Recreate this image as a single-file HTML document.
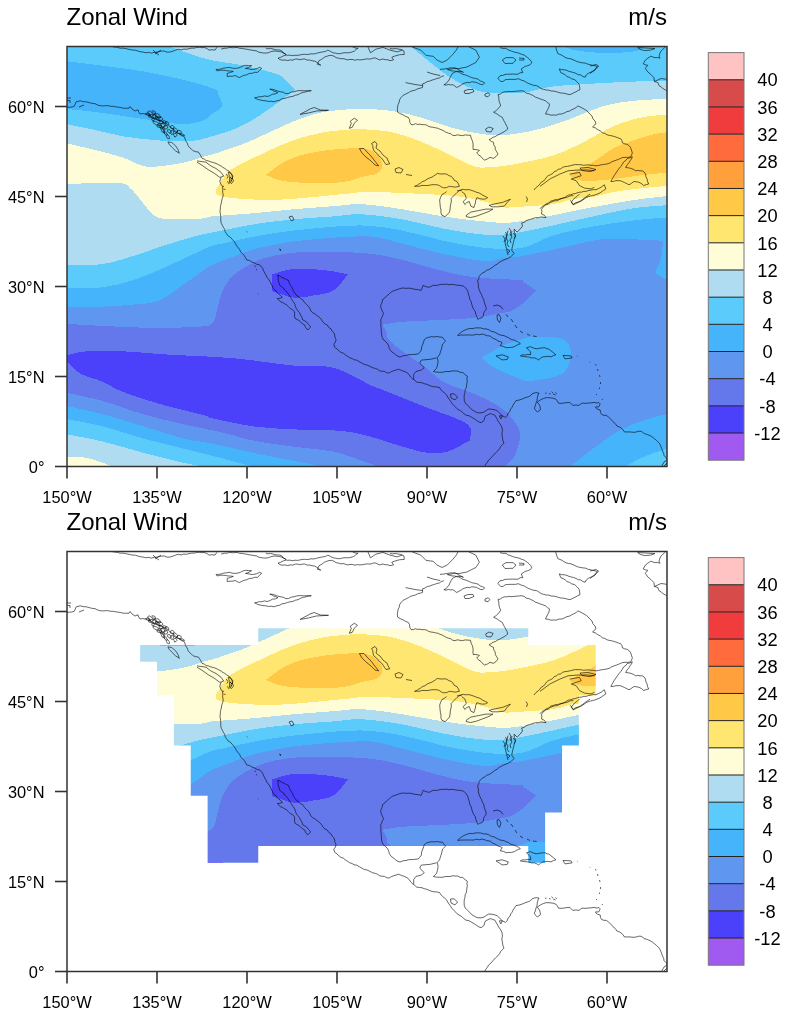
<!DOCTYPE html>
<html><head><meta charset="utf-8">
<style>
html,body{margin:0;padding:0;background:#fff;}
svg{display:block;}
text{font-family:"Liberation Sans",sans-serif;fill:#000;opacity:0.999;}
.ax{font-size:16.4px;}
.ti{font-size:24px;}
.cb{font-size:18.3px;}
.tk{stroke:#333;stroke-width:1.6;}
.coast polyline{fill:none;stroke:#000;stroke-width:0.6;stroke-linejoin:round;}
</style></head><body>
<svg width="789" height="1016" viewBox="0 0 789 1016">
<defs>
<clipPath id="pc"><rect x="67" y="46.5" width="600" height="420"/></clipPath>
<mask id="mc" maskUnits="userSpaceOnUse" x="0" y="0" width="789" height="600"><polygon fill="#fff" points="258.25,123.26 528.25,123.26 528.25,140 595.75,140 595.75,190.23 578.875,190.23 578.875,240.46 562,240.46 562,307.44 545.125,307.44 545.125,357.67 528.25,357.67 528.25,340.92 258.25,340.92 258.25,357.67 207.625,357.67 207.625,290.69 190.75,290.69 190.75,240.46 173.875,240.46 173.875,190.23 157,190.23 157,156.75 140.125,156.75 140.125,140 258.25,140"/></mask>
<g id="fills" shape-rendering="crispEdges">
<path fill="#5f96f0" d="M67,46.5L667,46.5L667,466.5L67,466.5L67,46.5Z"/>
<path fill="#46b4fa" d="M67,46.5L667,46.5L667,280.2C665.00,279.03 657.00,274.37 655,273.2C656.00,270.67 659.67,263.42 661,258C662.33,252.58 662.67,243.58 663,240.7C654.73,240.37 625.07,238.70 613.4,238.7C601.73,238.70 603.13,238.85 593,240.7C582.87,242.55 564.43,247.25 552.6,249.8C540.77,252.35 530.10,254.63 522,256C513.90,257.37 510.38,257.17 504,258C497.62,258.83 493.85,261.68 483.7,261C473.55,260.32 456.62,256.78 443.1,253.9C429.58,251.02 414.45,246.58 402.6,243.7C390.75,240.82 383.48,237.60 372,236.6C360.52,235.60 346.87,236.88 333.7,237.7C320.53,238.52 302.78,240.32 293,241.5C283.22,242.68 281.73,243.47 275,244.8C268.27,246.13 259.72,247.47 252.6,249.5C245.48,251.53 239.07,254.42 232.3,257C225.53,259.58 216.72,262.83 212,265C207.28,267.17 208.72,266.78 204,270C199.28,273.22 191.13,279.22 183.7,284.3C176.27,289.38 167.85,297.12 159.4,300.5C150.95,303.88 142.47,303.58 133,304.6C123.53,305.62 113.60,306.27 102.6,306.6C91.60,306.93 72.93,306.60 67,306.6L67,46.5Z"/>
<path fill="#5acbfa" d="M67,46.5L667,46.5L667,217.4C661.45,217.90 646.03,218.88 633.7,220.4C621.37,221.92 606.52,223.97 593,226.5C579.48,229.03 564.43,232.05 552.6,235.6C540.77,239.15 533.48,245.77 522,247.8C510.52,249.83 496.85,248.98 483.7,247.8C470.55,246.62 456.62,243.57 443.1,240.7C429.58,237.83 416.12,233.13 402.6,230.6C389.08,228.07 376.87,225.85 362,225.5C347.13,225.15 328.25,227.20 313.4,228.5C298.55,229.80 284.73,231.55 272.9,233.3C261.07,235.05 250.88,237.27 242.4,239C233.92,240.73 227.07,242.57 222,243.7C216.93,244.83 216.70,244.10 212,245.8C207.30,247.50 201.90,250.20 193.8,253.9C185.70,257.60 173.53,263.62 163.4,268C153.27,272.38 143.13,276.98 133,280.2C122.87,283.42 113.60,285.93 102.6,287.3C91.60,288.67 72.93,288.22 67,288.4L67,46.5Z"/>
<path fill="#46b4fa" d="M67,61.3C73.33,62.08 92.33,64.32 105,66C117.67,67.68 130.50,69.23 143,71.4C155.50,73.57 168.17,76.12 180,79C191.83,81.88 207.67,86.25 214,88.7C220.33,91.15 216.67,90.82 218,93.7C219.33,96.58 223.00,102.62 222,106C221.00,109.38 215.00,111.67 212,114C209.00,116.33 208.72,118.30 204,120C199.28,121.70 192.70,124.20 183.7,124.2C174.70,124.20 160.13,121.37 150,120C139.87,118.63 132.07,117.33 122.9,116C113.73,114.67 104.32,113.17 95,112C85.68,110.83 71.67,109.50 67,109L67,61.3Z"/>
<path fill="#46b4fa" d="M564,46.5C565.67,47.08 568.83,49.00 574,50C579.17,51.00 586.83,52.08 595,52.5C603.17,52.92 615.83,52.83 623,52.5C630.17,52.17 634.33,51.50 638,50.5C641.67,49.50 643.83,47.17 645,46.5L564,46.5Z"/>
<path fill="#b0dcf2" d="M67,124.2C71.67,125.17 85.68,127.98 95,130C104.32,132.02 113.73,134.70 122.9,136.3C132.07,137.90 141.55,138.75 150,139.6C158.45,140.45 166.93,141.17 173.6,141.4C180.27,141.63 185.93,141.22 190,141C194.07,140.78 195.67,140.50 198,140.1C200.33,139.70 200.00,139.73 204,138.6C208.00,137.47 217.28,134.73 222,133.3C226.72,131.87 227.20,132.22 232.3,130C237.40,127.78 244.82,124.68 252.6,120C260.38,115.32 271.93,106.95 279,101.9C286.07,96.85 292.33,91.73 295,89.7C293.33,88.00 288.33,82.20 285,79.5C281.67,76.80 282.10,75.87 275,73.5C267.90,71.13 252.90,67.50 242.4,65.3C231.90,63.10 220.73,62.18 212,60.3C203.27,58.42 197.08,56.30 190,54C182.92,51.70 172.92,47.75 169.5,46.5L410.7,46.5C413.75,48.97 422.92,56.47 429,61.3C435.08,66.13 440.78,71.28 447.2,75.5C453.62,79.72 460.73,83.73 467.5,86.6C474.27,89.47 478.72,91.68 487.8,92.7C496.88,93.72 511.20,93.72 522,92.7C532.80,91.68 540.77,88.12 552.6,86.6C564.43,85.08 579.48,84.43 593,83.6C606.52,82.77 621.37,82.10 633.7,81.6C646.03,81.10 661.45,80.77 667,80.6L667,205.2C661.45,205.70 646.03,206.33 633.7,208.2C621.37,210.07 606.52,213.52 593,216.4C579.48,219.28 566.10,222.63 552.6,225.5C539.10,228.37 523.48,232.08 512,233.6C500.52,235.12 495.18,235.45 483.7,234.6C472.22,233.75 456.62,231.03 443.1,228.5C429.58,225.97 416.12,221.77 402.6,219.4C389.08,217.03 373.48,214.80 362,214.3C350.52,213.80 345.20,215.55 333.7,216.4C322.20,217.25 306.52,218.05 293,219.4C279.48,220.75 264.43,222.63 252.6,224.5C240.77,226.37 228.77,229.25 222,230.6C215.23,231.95 216.70,231.60 212,232.6C207.30,233.60 201.90,234.40 193.8,236.6C185.70,238.80 173.53,242.57 163.4,245.8C153.27,249.03 143.13,252.97 133,256C122.87,259.03 113.60,262.50 102.6,264C91.60,265.50 72.93,264.83 67,265L67,124.2Z"/>
<path fill="#fffdd8" d="M67,143.4C71.67,144.50 85.68,147.63 95,150C104.32,152.37 115.57,155.15 122.9,157.6C130.23,160.05 133.93,163.17 139,164.7C144.07,166.23 145.85,167.13 153.3,166.8C160.75,166.47 175.25,164.42 183.7,162.7C192.15,160.98 199.28,157.87 204,156.5C208.72,155.13 209.33,155.25 212,154.5C214.67,153.75 214.45,153.90 220,152C225.55,150.10 236.85,146.48 245.3,143.1C253.75,139.72 262.25,135.50 270.7,131.7C279.15,127.90 287.78,123.47 296,120.3C304.22,117.13 312.67,114.42 320,112.7C327.33,110.98 333.00,110.62 340,110C347.00,109.38 353.27,108.83 362,109C370.73,109.17 382.25,109.50 392.4,111C402.55,112.50 412.75,115.13 422.9,118C433.05,120.87 443.17,125.48 453.3,128.2C463.43,130.92 473.92,133.28 483.7,134.3C493.48,135.32 502.22,135.32 512,134.3C521.78,133.28 532.25,130.92 542.4,128.2C552.55,125.48 562.75,121.70 572.9,118C583.05,114.30 593.17,108.87 603.3,106C613.43,103.13 623.08,102.00 633.7,100.8C644.32,99.60 661.45,99.13 667,98.8L667,196C661.45,196.68 646.03,198.23 633.7,200.1C621.37,201.97 606.52,204.67 593,207.2C579.48,209.73 566.10,212.77 552.6,215.3C539.10,217.83 523.48,221.38 512,222.4C500.52,223.42 495.18,222.40 483.7,221.4C472.22,220.40 456.62,218.42 443.1,216.4C429.58,214.38 416.12,211.33 402.6,209.3C389.08,207.27 373.48,204.72 362,204.2C350.52,203.68 345.20,205.35 333.7,206.2C322.20,207.05 306.52,208.12 293,209.3C279.48,210.48 266.10,212.12 252.6,213.3C239.10,214.48 220.10,215.55 212,216.4C203.90,217.25 210.40,217.90 204,218.4C197.60,218.90 181.72,219.73 173.6,219.4C165.48,219.07 160.40,219.13 155.3,216.4C150.20,213.67 147.05,207.57 143,203C138.95,198.43 135.03,192.33 131,189C126.97,185.67 129.47,183.83 118.8,183C108.13,182.17 75.63,183.83 67,184L67,143.4Z"/>
<path fill="#ffe670" d="M216,191C216.33,189.00 218.67,185.33 220,183C221.33,180.67 221.95,179.37 224,177C226.05,174.63 225.85,172.70 232.3,168.8C238.75,164.90 252.58,158.33 262.7,153.6C272.82,148.87 282.85,143.95 293,140.4C303.15,136.85 313.43,134.17 323.6,132.3C333.77,130.43 347.60,129.72 354,129.2C360.40,128.68 355.60,128.68 362,129.2C368.40,129.72 382.25,130.10 392.4,132.3C402.55,134.50 412.75,138.35 422.9,142.4C433.05,146.45 444.52,152.53 453.3,156.6C462.08,160.67 468.85,165.10 475.6,166.8C482.35,168.50 487.73,167.15 493.8,166.8C499.87,166.45 502.20,166.57 512,164.7C521.80,162.83 540.77,159.32 552.6,155.6C564.43,151.88 572.87,147.30 583,142.4C593.13,137.50 603.27,130.43 613.4,126.2C623.53,121.97 634.87,118.87 643.8,117C652.73,115.13 663.13,115.33 667,115L667,186C663.13,186.33 652.73,187.00 643.8,188C634.87,189.00 621.87,190.50 613.4,192C604.93,193.50 599.75,195.83 593,197C586.25,198.17 579.63,197.80 572.9,199C566.17,200.20 562.75,202.83 552.6,204.2C542.45,205.57 520.10,206.70 512,207.2C503.90,207.70 512.10,208.90 504,207.2C495.90,205.50 480.30,199.37 463.4,197C446.50,194.63 419.50,193.83 402.6,193C385.70,192.17 370.10,192.00 362,192C353.90,192.00 362.10,192.17 354,193C345.90,193.83 326.92,195.83 313.4,197C299.88,198.17 286.42,199.83 272.9,200C259.38,200.17 241.45,198.83 232.3,198C223.15,197.17 220.72,196.17 218,195C215.28,193.83 215.67,193.00 216,191Z"/>
<path fill="#ffc846" d="M265.8,174.9C268.67,172.87 276.75,166.08 283,162.7C289.25,159.32 294.85,156.80 303.3,154.6C311.75,152.40 323.92,150.52 333.7,149.5C343.48,148.48 355.25,147.98 362,148.5C368.75,149.02 370.82,150.23 374.2,152.6C377.58,154.97 381.63,159.33 382.3,162.7C382.97,166.07 381.58,170.43 378.2,172.8C374.82,175.17 367.73,175.37 362,176.9C356.27,178.43 351.90,180.98 343.8,182C335.70,183.02 323.53,183.17 313.4,183C303.27,182.83 290.93,182.35 283,181C275.07,179.65 268.67,175.92 265.8,174.9Z"/>
<path fill="#ffc846" d="M568.8,174.9C572.17,173.20 581.57,169.10 589,164.7C596.43,160.30 605.95,152.55 613.4,148.5C620.85,144.45 626.93,142.77 633.7,140.4C640.47,138.03 648.45,135.65 654,134.3C659.55,132.95 664.83,132.63 667,132.3L667,172.8C663.13,173.15 652.73,173.87 643.8,174.9C634.87,175.93 623.53,177.98 613.4,179C603.27,180.02 590.43,181.68 583,181C575.57,180.32 571.17,175.92 568.8,174.9Z"/>
<path fill="#6478eb" d="M67,323.9C72.93,324.23 88.22,325.23 102.6,325.9C116.98,326.57 138.10,327.73 153.3,327.9C168.50,328.07 184.02,327.57 193.8,326.9C203.58,326.23 208.13,326.72 212,323.9C215.87,321.08 215.33,315.25 217,310C218.67,304.75 219.45,298.03 222,292.4C224.55,286.77 227.20,281.10 232.3,276.2C237.40,271.30 245.83,266.37 252.6,263C259.37,259.63 264.45,257.85 272.9,256C281.35,254.15 293.17,252.58 303.3,251.9C313.43,251.22 322.25,251.57 333.7,251.9C345.15,252.23 360.52,252.55 372,253.9C383.48,255.25 390.75,257.13 402.6,260C414.45,262.87 431.27,268.23 443.1,271.1C454.93,273.97 463.45,275.85 473.6,277.2C483.75,278.55 495.93,278.70 504,279.2C512.07,279.70 518.67,279.68 522,280.2C525.33,280.72 521.62,280.60 524,282.3C526.38,284.00 534.25,289.05 536.3,290.4C534.25,292.43 528.05,299.22 524,302.6C519.95,305.98 515.33,309.02 512,310.7C508.67,312.38 510.40,311.52 504,312.7C497.60,313.88 483.75,316.62 473.6,317.8C463.45,318.98 454.93,319.13 443.1,319.8C431.27,320.47 412.73,320.95 402.6,321.8C392.47,322.65 385.68,324.38 382.3,324.9C382.97,325.92 385.28,328.63 386.3,331C387.32,333.37 385.68,335.72 388.4,339.1C391.12,342.48 396.85,346.90 402.6,351.3C408.35,355.70 416.15,360.43 422.9,365.5C429.65,370.57 436.35,377.65 443.1,381.7C449.85,385.75 456.63,387.08 463.4,389.8C470.17,392.52 476.93,394.62 483.7,398C490.47,401.38 498.58,405.72 504,410.1C509.42,414.48 513.50,419.90 516.2,424.3C518.90,428.70 520.55,431.08 520.2,436.5C519.85,441.92 516.80,451.80 514.1,456.8C511.40,461.80 505.68,464.88 504,466.5L378,466.5C375.33,465.55 369.38,463.27 362,460.8C354.62,458.33 345.18,454.07 333.7,451.7C322.22,449.33 306.62,448.47 293.1,446.6C279.58,444.73 264.45,442.87 252.6,440.5C240.75,438.13 233.48,435.10 222,432.4C210.52,429.70 196.85,427.33 183.7,424.3C170.55,421.27 156.62,418.08 143.1,414.2C129.58,410.32 115.28,404.55 102.6,401C89.92,397.45 72.93,394.25 67,392.9L67,323.9Z"/>
<path fill="#4b41fa" d="M271.8,274.5C275.33,273.58 284.37,269.75 293,269C301.63,268.25 314.45,269.13 323.6,270C332.75,270.87 343.85,273.50 347.9,274.2C345.53,276.90 339.45,286.85 333.7,290.4C327.95,293.95 320.18,294.32 313.4,295.5C306.62,296.68 299.90,298.25 293,297.5C286.10,296.75 275.50,292.08 272,291C271.97,288.25 271.83,277.25 271.8,274.5Z"/>
<path fill="#4b41fa" d="M67,355.3C70.22,354.63 76.98,351.97 86.3,351.3C95.62,350.63 110.05,350.80 122.9,351.3C135.75,351.80 146.88,353.28 163.4,354.3C179.92,355.32 207.13,356.38 222,357.4C236.87,358.42 240.75,359.05 252.6,360.4C264.45,361.75 280.93,364.48 293.1,365.5C305.27,366.52 317.15,365.48 325.6,366.5C334.05,367.52 336.07,368.38 343.8,371.6C351.53,374.82 365.58,382.77 372,385.8C378.42,388.83 373.82,386.43 382.3,389.8C390.78,393.17 408.70,400.25 422.9,406C437.10,411.75 459.73,418.55 467.5,424.3C475.27,430.05 469.17,437.80 469.5,440.5C465.78,442.37 454.30,449.67 447.2,451.7C440.10,453.73 434.33,453.55 426.9,452.7C419.47,451.85 413.42,449.65 402.6,446.6C391.78,443.55 373.48,437.10 362,434.4C350.52,431.70 345.18,431.23 333.7,430.4C322.22,429.57 306.62,430.08 293.1,429.4C279.58,428.72 266.12,428.17 252.6,426.3C239.08,424.43 220.10,420.05 212,418.2C203.90,416.35 212.10,417.40 204,415.2C195.90,413.00 176.92,408.88 163.4,405C149.88,401.12 133.03,395.78 122.9,391.9C112.77,388.02 109.70,384.75 102.6,381.7C95.50,378.65 86.23,376.98 80.3,373.6C74.37,370.22 69.22,363.43 67,361.4L67,355.3Z"/>
<path fill="#46b4fa" d="M67,406C72.93,407.37 89.92,410.82 102.6,414.2C115.28,417.58 129.58,422.25 143.1,426.3C156.62,430.35 172.22,435.62 183.7,438.5C195.18,441.38 200.52,441.23 212,443.6C223.48,445.97 239.08,449.83 252.6,452.7C266.12,455.57 281.27,458.50 293.1,460.8C304.93,463.10 318.52,465.55 323.6,466.5L67,466.5L67,406Z"/>
<path fill="#5acbfa" d="M67,419.2C72.93,420.38 89.92,423.08 102.6,426.3C115.28,429.52 129.58,434.78 143.1,438.5C156.62,442.22 172.22,445.73 183.7,448.6C195.18,451.47 202.22,453.15 212,455.7C221.78,458.25 235.63,462.10 242.4,463.9C249.17,465.70 250.90,466.07 252.6,466.5L67,466.5L67,419.2Z"/>
<path fill="#b0dcf2" d="M67,434.4C72.93,435.58 89.92,438.45 102.6,441.5C115.28,444.55 129.58,449.15 143.1,452.7C156.62,456.25 173.88,460.50 183.7,462.8C193.52,465.10 198.95,465.88 202,466.5L67,466.5L67,434.4Z"/>
<path fill="#fffdd8" d="M67,456.8C70.22,456.97 80.37,456.80 86.3,457.8C92.23,458.80 98.20,461.35 102.6,462.8C107.00,464.25 111.02,465.88 112.7,466.5L67,466.5L67,456.8Z"/>
<path fill="#46b4fa" d="M481.7,357.4C485.42,355.37 497.28,348.25 504,345.2C510.72,342.15 517.28,340.45 522,339.1C526.72,337.75 525.52,337.10 532.3,337.1C539.08,337.10 556.28,336.40 562.7,339.1C569.12,341.80 570.80,347.55 570.8,353.3C570.80,359.05 569.12,369.03 562.7,373.6C556.28,378.17 539.08,379.68 532.3,380.7C525.52,381.72 528.42,381.90 522,379.7C515.58,377.50 500.52,371.22 493.8,367.5C487.08,363.78 483.72,359.08 481.7,357.4Z"/>
<path fill="#46b4fa" d="M570.8,466.5C574.52,463.52 584.30,454.95 593.1,448.6C601.90,442.25 613.45,433.63 623.6,428.4C633.75,423.17 646.77,419.57 654,417.2C661.23,414.83 664.83,414.70 667,414.2L667,466.5L570.8,466.5Z"/>
<path fill="#5acbfa" d="M625.6,466.5C628.63,464.88 636.90,459.78 643.8,456.8C650.70,453.82 663.13,449.97 667,448.6L667,466.5L625.6,466.5Z"/>
</g>
<g id="coast" class="coast">
<polyline points="112.7,46.8 115.26,47.07 117.79,47.52 120.29,48.24 122.9,48.1 125.43,48.56 127.95,49.11 130.46,49.69 133,50.1 135.59,50.26 138.05,51.11 140.55,51.74 143.1,52.1 145.76,52.75 148.55,52.32 151.2,53.1 154.22,52.39 157.3,52.1 161.4,51.1 164.16,50.99 166.76,52.1 169.5,52.1 172.62,51.3 175.6,50.1 178.24,49.27 181.06,49.96 183.7,49.1 186.46,49.27 189.12,48.6 191.8,48.1 194.25,48.11 196.66,47.48 199.09,47.21 201.56,47.65 204,47.5 206.72,48.37 209,50.1 212,49.76 215,50.1 217,47.2"/>
<polyline points="153,50 156,53 159,55"/>
<polyline points="155,54 161,50"/>
<polyline points="221.1,49.1 224.1,48.32 227.2,48.1 229.72,47.43 232.3,47.76 234.85,47.58 237.4,47.5 239.7,48.3 242.13,48.39 244.47,48.95 246.87,49.23 249.2,49.84 251.6,50.1 253.98,50.55 256.38,50.86 258.59,52.14 260.95,52.63 263.36,52.97 265.8,53.1 268.55,52.66 271.15,51.57 273.9,51.1 276.64,51.14 279.33,51.54 282,52.1 284.29,53.28 286,55.2 283.23,55.93 280.71,57.3 278,58.2 279.83,59.54 282,60.2 284.86,59.98 287.75,60.5 290.6,59.9 292.99,60.13 295.3,59.05 297.68,59.13 300.1,59.75 302.43,59.12 304.8,59 307.04,60.08 309.56,60.02 311.9,60.7 314.75,61.15 317.3,62.5 318.96,63.96 320.8,65.2 317.3,64.3 319,60.7 321.87,59.21 324.4,57.2 326.7,56.35 329.02,55.56 331.5,55.4 333.93,56.13 336.05,57.68 338.6,58.1 340.74,58.83 343.08,58.59 345.26,59.18 347.4,59.9 349.88,59.46 352.36,59.42 354.84,60.23 357.32,59.55 359.8,59.9 362.03,59.74 364.24,59.39 366.44,58.89 368.7,59 371.1,58.95 373.38,58 375.8,58.1 379.4,59.9 382.9,59 385.23,59.72 387.73,59.72 390,60.7 393.6,59.9 391.8,57.2 394.42,56.22 397.1,55.4 399.43,54.79 401.8,54.55 404.2,54.5 404,51 401.16,49.51 398,49 395.35,48.5 392.65,48.88 390,48.5"/>
<polyline points="265.8,48.1 268.11,48.85 270.58,48.45 272.92,48.98 275.21,49.82 277.61,49.92 280,50.1 282.04,51.07 283.23,53.18 285.51,53.82 287.1,55.4 289.75,55.13 292.4,55.7 295.05,55.21 297.7,55.4 299.9,54.95 302.1,54.48 304.33,54.28 306.6,54.5 308.83,54.37 311.02,53.77 313.29,53.94 315.5,53.6 317.83,52.9 320.22,52.42 322.6,51.9 325.41,51.48 327.9,50.1 330.56,51.43 333.2,52.8 335.56,53.15 337.89,53.73 340.3,53.6 342.63,52.99 344.99,52.69 347.4,52.8 349.88,52.64 352.22,51.94 354.5,51 356.13,49.43 358.1,48.3 355.32,47.98 352.7,47"/>
<polyline points="368,47 370.5,52.8 375.8,49.2 382.9,47.4 390,50.1 397.1,51.9 402.4,50.1"/>
<polyline points="411.9,46.8 420.8,50.1 426.1,55.4 433.2,56.3 436.8,59.9 442.1,62.5 447.4,59.9 452.7,54.5 456.3,50.1 458.1,46.8"/>
<polyline points="468.7,46.8 475.8,50.1 479.4,57.2 475.8,62.5 466.9,67 458.1,68.7 451,67.8 444,69 440,69.4"/>
<polyline points="447.4,69.6 449.83,69.26 452.25,68.87 454.5,67.8 457.3,68.85 459.8,70.5 463.4,72.3 461.1,71.51 458.72,71.28 456.3,71.4 452.7,73.2 451.28,75.34 450.12,77.64 449.1,80.02 447.4,82 445.96,83.75 443.9,84.7 446.1,85.21 448.3,84.41 450.5,84.93 452.7,84.7 454.66,85.84 456.3,87.4 458.69,86.59 460.8,85.24 462.87,83.82 465.2,82.9 467.36,82.32 469.62,82.69 471.75,81.75 474,82 476.31,82.39 478.43,83.41 480.56,84.4 482.9,84.7 484.7,82.9 482.53,81.69 480.14,80.92 478.23,79.19 475.8,78.5 473.58,78.09 471.39,77.56 469.36,76.58 467.3,75.68 465.2,74.9 462.93,74.37 460.92,73.29 459,72 456.65,71.66 454.38,70.96 451.96,70.96 449.69,70.23 447.4,69.6"/>
<polyline points="464,91 468,89.5 473,89.5 474,91.5 469,93.5 465,93.5 464,91"/>
<polyline points="485,94 488,92.8 490,94.5 488,96.8 485,96 485,94"/>
<polyline points="500,47.6 503,48.38 506.1,48.3 507.89,49.8 510.09,50.52 512.2,51.4 515.2,52.35 518.3,52.9 521.27,54.14 524.3,55.2 527.4,57.4 529.2,58.95 530.79,60.67 531.9,62.8 529.94,64.74 527.4,65.8 525.16,66.43 523.23,67.67 521.3,68.9 522.8,72.7 520.17,72.7 517.84,74.22 515.2,74.2 512.67,74.05 510.13,74.22 507.6,74.2 505.02,74.45 502.57,75.4 500,75.7 497.8,78.5 500.9,81.5 503.29,81.36 505.23,79.72 507.6,79.5 510.28,79.35 512.97,79.36 515.66,79.34 518.3,78.7 521.21,80.09 524.3,81 526.23,82.23 528.22,83.35 530.4,84.1 533.34,85.29 536.5,85.6 538.89,86.96 541.1,88.6 543.59,89.3 546.08,90.03 548.7,90.1 551.15,91.03 553.79,91.08 556.3,91.7 558.77,92.51 561.29,93.09 563.9,93.2 566.93,94.03 570,94.7 573.9,92.7 575.99,91.82 577.91,90.58 580,89.7 579.64,86.89 579.1,84.1 576.88,81.72 574.5,79.5 571.8,78.93 569.49,77.36 566.9,76.5 565.15,74.77 563.05,73.61 560.8,72.7 559.3,68.9 561.78,69.65 564.39,69.78 566.9,70.4 569.09,71.4 571.42,71.98 573.75,72.59 576,73.4 578.16,74.69 580.77,74.88 582.79,76.5 585.2,77.2 586.29,74.98 588.2,73.4 590.28,72.5 592.26,71.38 594.3,70.4 595.57,68.32 597.3,66.6 595.08,65.81 592.75,65.45 590.51,64.75 588.2,64.3 585.26,63.1 582.1,62.8 579.74,62.28 577.38,61.76 575.2,60.68 573,59.7 570.79,58.76 568.35,58.51 566.06,57.8 563.9,56.7 562.07,55.27 559.91,54.48 557.8,53.6 556.99,51.37 556.3,49.1 555.6,46.8"/>
<polyline points="502.3,60 506,57.6 513,57.6 516,60 513,63.3 505,63.5 502.3,60"/>
<polyline points="519,58 524,58.5 524,60 519,60"/>
<polyline points="590,66 596,64.5 598.6,66 595,70 590,73.4"/>
<polyline points="665.5,46.8 663,49.1 661,51.1 660,53.1 659,56.2 660,58.2 657.49,57.52 654.9,57.7 650.8,56.2 647.8,58.2 645.3,60.2 643.2,63.8 645.3,64.8 647.8,65.3 645.3,68.3 647.8,71.9 650.8,74.4 653.9,77.5 654.4,81.5 657.9,82.5 659,85.6 661.11,86.95 663,88.6 666.6,90.7"/>
<polyline points="654.4,81.5 661,78.5 665,79 666.6,79.5"/>
<polyline points="637.7,47.6 640.7,49.6 644.8,50.6 650.8,50.1 654.9,48.6 646,48 637.7,47.6"/>
<polyline points="216,69.4 218.56,69.38 221.1,69 223.73,68.11 226.48,67.79 229.2,67.3 232.19,68.18 235.3,68.4 237.98,68.06 240.52,67.25 242.91,65.95 245.5,65.3 248.54,65.59 251.6,65.7 249.65,66.78 247.7,67.87 245.5,68.4 248.2,68.73 250.85,69.43 253.6,69.4 256.77,68.71 259.7,67.3 261.7,68.4 259.49,70.23 257.6,72.4 254.84,72.24 252.23,73.31 249.5,73.4 246.57,74.79 243.4,75.5 241.42,76.55 239.4,77.5 237.24,76.72 235.3,75.5 232.64,76.15 229.91,76.26 227.2,76.5 227.2,73.4 230.29,72.53 233.3,71.4 230.6,71.07 227.88,70.93 225.2,70.4 222.47,70.23 219.76,70.27 217.1,71 216,69.4"/>
<polyline points="254.6,97.8 256.96,97.41 259.27,96.67 261.7,96.8 264.33,95.92 267.16,96.47 269.8,95.7 272.32,94.23 275.28,93.92 277.9,92.7 275.91,91.75 273.77,91.14 271.95,89.78 269.8,89.2 272.48,89.31 275,90.06 277.46,91.03 280,91.7 283.17,92.2 286,93.7 288.82,93.39 291.4,92.09 294.2,91.7 296.75,90.97 299.34,90.54 302,90.7 304.32,90.84 306.65,90.64 308.98,90.84 311.3,90.7 308.72,91.03 306.2,91.7 303.38,92.38 300.62,93.23 298.1,94.7 295.38,95.2 292.85,96.42 290.1,96.8 287.41,97.49 284.78,98.48 282,98.8 279.49,100.3 276.61,100.83 273.9,101.8 271.23,101.23 268.46,101.48 265.8,100.8 263.02,100.58 260.3,100.03 257.6,99.4 254.6,97.8"/>
<polyline points="300.1,114.4 310.3,108.9 314.3,107.5 320.4,110 328.5,110.3 316.4,111 308.3,113 300.1,114.4"/>
<polyline points="349.3,128.3 351.3,123.3 350.3,121.2 354.3,118.2 357.4,120.2 354.3,123.3 352.3,127.3 349.3,128.3"/>
<polyline points="371.6,143.5 375,141.5 377,144 376,148 377.87,149.67 380,151 381.48,153.01 383,155 384.92,156.6 387,158 388.15,161.02 389.8,163.8 386,164.5 384.4,162.31 383,160 381.23,157.77 379,156 377.32,153.68 375,152 373.59,150.2 373,148 372.75,145.61 371.6,143.5"/>
<polyline points="359.4,148.6 364,148.5 367,152 371,156 374,160 378.7,165.9 375,165 371,161 366,157 362,153 359.4,148.6"/>
<polyline points="395,169 399,167.5 403,169.5 401,173 396,172.5 395,169"/>
<polyline points="406,174.5 412,175.5"/>
<polyline points="405.6,82.6 415,84.5 422.6,85.6"/>
<polyline points="427,72 433,74 440.1,75.5"/>
<polyline points="443.9,75.8 441.45,76.47 439.31,77.98 436.8,78.5 434.45,79.41 432.02,80.1 429.7,81.1 427.17,81.58 425.01,83.03 422.6,83.8 422.6,87.4 420.21,88.2 417.72,88.74 415.5,90 413.02,90.59 410.59,91.34 408.4,92.7 405.77,94.04 403.1,95.3 401.17,97.45 399.5,99.8 399.21,102.25 398.06,104.47 397.7,106.9 397.35,109.55 397.7,112.2 400.33,113.69 403.1,114.9 405.64,116.41 408.4,117.5 409.59,119.75 409.79,122.39 411.1,124.6 413.41,124.67 415.5,123.7 417.67,124.45 419.95,124.19 422.14,124.69 424.4,124.6 426.66,125.09 428.67,126.38 430.89,127 433.2,127.3 435.47,127.82 437.78,128.21 439.89,129.26 442.1,130 444.2,131.11 446.21,132.38 448.47,133.17 450.81,133.78 452.7,135.3 455.07,135.64 457.43,134.82 459.8,135.3 462.48,135.63 465.15,134.94 467.82,135.12 470.5,135.3 471.1,138.05 472.3,140.6 472.92,142.79 473.13,145.01 472.96,147.28 473.2,149.5 475.8,149.5 479.4,150.3 476.7,153 478.74,154.99 481.1,156.6 482.64,158.62 484.7,160.1 487.44,158.94 490,157.4 493.6,158.3 496.15,156.45 498,153.9 496.64,151.7 495.3,149.5 495.21,147.02 493.72,144.87 493.6,142.4 491.19,141.31 489.1,139.7 491.11,138.63 492.99,137.3 495.22,136.62 497.1,135.3 499.54,134.24 501.84,132.92 504.2,131.7 507.7,129.1 507.18,126.86 506.03,124.87 505.1,122.8 503.57,120.24 502.4,117.5 499.68,115.86 497.1,114 493.6,112.2 495.58,111.15 497.1,109.5 499.24,107.58 500.7,105.1 499.5,102.55 498.9,99.8 498.83,97.09 498,94.5 500.27,94.07 502.14,92.72 504.2,91.8 506.47,91.85 508.73,91.4 511,91.7 513.53,91.49 516.05,91.2 518.59,91.07 521.1,90.7 523.98,91.21 526.32,93.18 529.2,93.7 531.24,94.74 533.35,95.65 535.2,97.07 537.4,97.8 540.08,98.86 542.8,99.79 545.5,100.8 547.37,102.52 549.5,103.9 548.95,107.05 547.5,109.9 546.46,111.93 545.5,114 548.21,114.24 550.84,115.17 553.6,115 556.36,115.13 558.97,114.08 561.7,114 564.39,112.97 566.96,111.62 569.8,111 571.79,109.66 574.04,108.74 576.11,107.55 577.9,105.9 579.96,106.88 582,107.9 584.15,109.1 586.26,110.35 588.1,112 589.96,114.09 592,116 592.92,118.81 595.03,121.01 596,123.8 594.13,125.23 592.7,127.1 595.43,127.88 597.7,129.6 600.34,130.97 602.6,132.9 604.91,133.45 606.93,134.76 609.2,135.4 611.45,135.74 613.64,136.31 615.8,137 618.21,137.97 620.7,138.7 621.95,140.58 622.4,142.8 624.77,143.84 627.3,144.4 629.24,145.76 630.6,147.7 631.44,150.2 632.3,152.7 631.7,154.86 630.6,156.8 627.9,157.4 625.13,157.3 622.4,157.6 620.35,158.49 618.3,159.38 616.21,160.16 614.1,160.9 612.04,161.7 610.14,162.9 608.07,163.68 605.9,164.2 603.4,164.48 600.92,164.9 598.47,165.44 596,165.9 593.56,165.29 591.06,165.33 588.61,164.83 586.1,165 583.48,165.29 580.86,164.74 578.24,164.66 575.62,164.56 573,165 570.27,165.77 567.51,166.33 564.7,166.7 562.44,167.31 560.74,169.03 558.3,169.28 556.5,170.8 554.21,171.66 552.55,173.6 550.42,174.72 548.2,175.7 546.38,177.18 545.11,179.21 543.6,180.99 541.38,182.08 540,184 538.06,186.06 535.77,187.77 534,190"/>
<polyline points="540,186.4 549.9,179 559.8,174.1 568,170.8 577.9,170 587.8,170 594.4,170.8"/>
<polyline points="580,168 588,167.5 596,169.5 590,171.6 582,170.5 580,168"/>
<polyline points="485.6,129 489,127 493.2,128.5 491,132 486.5,131.5 485.6,129"/>
<polyline points="569.7,174.1 579.5,172.4 581.2,175.7 576.2,177.4 571.3,179 576.2,180.7 579.5,185.6 584.5,188.1 591.1,188.9 594.4,187.3"/>
<polyline points="540,208.7 541.95,206.71 544.34,205.28 546.6,203.7 548.89,202.82 550.77,201.09 553.2,200.5 555.32,199.61 557.65,199.56 559.8,198.8 562.16,198.39 564.38,197.62 566.4,196.3 568.46,195.1 570.8,194.71 573,193.9 575.24,193.61 577.33,192.77 579.5,192.2 581.72,192.14 583.86,191.33 586.1,191.4 588.5,190.51 590.98,190.12 593.44,189.62 596,189.7 598.52,188.55 601,187.3 604.3,184.8 605.08,186.86 605.9,188.9 603.41,190.49 601,192.2 599.07,193.39 596.98,194.17 594.9,194.98 592.7,195.5 590.51,195.98 588.4,196.65 586.37,197.54 584.5,198.8 582.5,200.3 580.32,201.43 577.9,202.1 575.22,202.91 573,204.6 571.3,202.1 572.92,200.02 574.6,198 577.24,196.17 579.5,193.9"/>
<polyline points="610.9,181.5 611.8,179.47 613,177.62 614.1,175.7 615.76,173.26 617.4,170.8 619.01,168.55 620.82,166.47 622.4,164.2 623.62,161.92 625.84,160.48 627.3,158.4 629.92,157.96 632.3,156.8 631.5,158.91 630.14,160.69 629,162.6 627.13,164.9 625.7,167.5 628.17,167.8 630.6,168.3 633.25,169.25 635.6,170.8 637.8,170.43 640,170.81 642.2,170.8 644.23,172.07 645.5,174.1 645.89,176.68 647.1,179 647.58,181.6 648.7,184 646.18,184.59 643.8,185.6 641.57,183.62 638.9,182.3 636.42,181.76 633.9,181.5 631.51,183.24 629,184.8 626.85,183.6 624.6,182.6 622.4,181.5 620.26,180.71 618.04,180.63 615.8,180.7 613.39,181.36 610.9,181.5"/>
<polyline points="414.6,186.3 416.73,185.54 418.54,184.23 420.46,183.11 422.2,181.7 424.89,180.74 427.22,179.07 429.8,177.9 431.92,177.15 433.81,176.01 435.61,174.71 437.4,173.4 439.65,173.87 441.93,174.04 444.23,173.82 446.5,174.1 448.69,175.47 451.1,176.4 452.97,178.01 454.1,180.2 457.1,181.7 458.41,183.92 459.4,186.3 455.6,187.1 452.55,186.73 449.5,186.3 446.63,187.57 443.5,187.8 441.4,186.94 439.5,185.66 437.4,184.8 434.35,184.66 431.3,184.8 428.28,185.44 425.2,185.5 422.09,185.42 419.1,186.3 416.85,186.12 414.6,186.3"/>
<polyline points="446.5,191.6 444.3,193.3 441.9,194.7 440.64,197.28 439.7,200 439.86,202.54 440.13,205.07 440.4,207.6 441.02,210.11 440.86,212.77 441.9,215.2 445,216.7 447.36,214.51 449.5,212.1 450.12,209.13 450.3,206.1 450.85,203.6 451.36,201.09 451.1,198.5 454.1,195.4 457.1,192.4 459.17,190.78 461.7,190.1"/>
<polyline points="457.1,190.9 460.18,190.22 463.2,189.3 465.71,189.83 468.29,189.57 470.8,190.1 473.89,191.15 476.9,192.4 479.15,192.96 481.11,194.1 483,195.4 485.36,196.43 487.6,197.7 485.44,198.87 483,199.2 479.88,198.72 476.9,197.7 475.72,200.23 475.4,203 474.6,205.28 473.9,207.6 470.8,206.1 470.06,203.8 469.3,201.5 466.76,202.57 464.8,204.5 463.2,201.5 466.3,198.5 465.62,196.18 464.8,193.9 461.7,191.6"/>
<polyline points="466.3,215.2 470.8,212.1 478.4,210.6 486,209.1 492.9,209.1 489.1,211.4 483,213.7 476.9,216 470.8,217.5 466.3,216.7 466.3,215.2"/>
<polyline points="489.1,205.3 495.2,203.8 502.8,202.3 510.4,199.2 507.3,202.3 504.3,206.1 498.2,206.8 492.1,206.8 489.1,205.3"/>
<polyline points="526,196.5 527.5,199 526.5,202"/>
<polyline points="590,194.1 585.6,197.2 579.5,201.7 573.4,204.8 570.4,200.2"/>
<polyline points="573.4,195.6 570.21,195.87 567.3,197.2 564.72,197.79 562.14,198.34 559.7,199.4 557.3,200.61 554.6,200.83 552.1,201.7 549.94,202.48 548.26,204.21 546,204.8 543.42,206.72 541.5,209.3 541.87,211.6 541.5,213.9 544.5,215.4 546,217.7 543.74,217.33 541.5,216.9 538.5,217.66 535.4,217.7 533.1,218.45 530.8,219.2 528.51,219.83 526.3,220.7 524.22,222.28 521.7,223 522.5,226.1 520.2,229.1 517.1,232.1 514.1,229.1 514.37,232.27 515.6,235.2 514.93,237.53 514.1,239.8 513.32,242.79 512.6,245.8 512.09,248.08 511.8,250.4 514.1,253.4 511.1,256.5 509.13,257.63 507.14,258.71 505,259.5 502.89,260.38 500.9,261.51 498.9,262.6 497.01,264.29 494.69,265.41 492.8,267.1 490.87,268.33 488.98,269.64 486.7,270.2 484.61,271.93 482.2,273.2 479.1,276.3 478.83,278.71 477.6,280.8 478.37,283.8 478.4,286.9 479.24,290.05 480.6,293 481.74,294.98 482.28,297.26 483.7,299.1 484.19,302.12 485.2,305 486.09,307.22 486,309.6 484.52,311.39 483.56,313.43 483.42,315.88 482,317.7 479.78,318.14 477.9,319.4 476.83,316.98 475.88,314.51 475.38,311.85 473.9,309.6 472.61,307.18 471.87,304.54 471.27,301.84 469.8,299.5 469.37,296.74 468.43,294.11 467.8,291.4 466.16,288.52 463.7,286.3 460.71,285.46 457.6,285.3 454.62,284.69 451.6,284.3 449.05,284.72 446.5,284.16 443.95,284.35 441.4,284.3 438.74,284.96 436.06,285.46 433.3,285.3 431.24,286.27 429.2,287.3 426.07,286.69 423.2,285.3 422.21,287.87 421.1,290.4 418.61,289.69 416.04,289.4 413.47,289.08 411,288.3 408.48,288.21 405.95,288.39 403.42,287.99 400.9,288.3 397.84,289.32 394.8,290.4 392.47,291.28 390.46,292.65 388.7,294.4 386.5,295.9 384.82,298.02 382.6,299.5 382,302.68 380.6,305.6 381.19,308.45 382.31,311.11 383.6,313.7 382.48,315.67 381.74,317.84 380.6,319.8 381.03,322.32 380.76,324.88 381.08,327.41 381.23,329.94 381.37,332.48 381.7,335 382.19,337.39 383.2,339.6 385.74,341.61 387.8,344.1 388.81,346.31 389.3,348.7 391.23,351.37 393.9,353.3 395.69,354.95 397.75,356.19 400,357.1 402.87,355.81 406,355.5 408.5,354.69 411.1,354.58 413.7,354.5 415.94,354.17 418.2,354 419.86,352.19 421.3,350.2 421.63,347.05 422.8,344.1 423.59,341.86 424.3,339.6 426.39,338.03 428.9,337.3 431.39,336.58 433.99,336.96 436.5,336.5 439.49,336.96 442.5,337.3 443.94,339.29 445.6,341.1 442.5,344.1 441.89,347.18 441,350.2 440.27,352.51 439.5,354.8 437.2,357.8 437.91,360.05 438,362.4 437.42,365.49 436.5,368.5 433.4,371.5 436.41,372.17 439.5,372.3 442.6,372.27 445.6,371.5 450,371.5 452.56,370.78 455.2,371 457.81,371.09 460.2,372.33 462.8,372.5 465.01,374.5 467.4,376.3 466.91,378.55 467.31,380.88 466.88,383.13 466.6,385.4 466.28,387.74 465.12,389.87 465.01,392.26 464.3,394.5 464.13,397.55 464.3,400.6 465.4,403.2 467.4,405.2 469.79,407.37 471.9,409.8 473.91,410.85 475.85,412.04 478,412.8 481.11,412.86 484.1,412 486.36,410.43 488.7,409 491.77,409.26 494.8,409.8 497.3,410.93 499.3,412.8 502.4,415.8 500.8,418.9 499.3,415.8 502.4,415.8 505.4,417.4 507.26,415.62 508.1,413.05 510,411.3 510.59,409.06 512.06,407.26 513,405.2 514.49,402.89 516,400.6 519.1,400.05 522.1,399.1 525.07,397.74 528.2,396.8 530.39,395.79 532.02,393.87 534.3,393 536.6,392.68 538.9,393 537.93,395.24 537.3,397.6 537,400.76 535.8,403.7 535.25,406.02 534.3,408.2 535.61,410.25 537.3,412 540.4,409.8 540.21,407.46 539.6,405.2 537.3,402.1 540.4,399.9 543.37,398.53 546.5,397.6 550,397.8 553.14,398.17 556.1,399.3 557.38,401.12 558.4,403.1 561.05,403.35 563.7,403.1 566.73,402.6 569.8,402.4 572.8,405.4 575.85,404.98 578.9,405.4 581.9,403.1 584.95,403.33 588,403.1 591.06,402.83 594.1,402.4 597.1,403.1 598.7,402.4 600.2,403.9 598.7,406.9 595.6,406.9 595.6,407.7 597.69,409.26 600.2,410 600.49,412.4 601.7,414.5 603.92,415.35 606.3,415.3 608.59,417.15 610.8,419.1 612.86,421.64 615.4,423.7 616.9,426 619.29,426.91 621.5,428.2 623.16,429.98 624.5,432 627.55,431.89 630.6,432 633.31,432.3 635.98,432.08 638.61,431.2 641.3,431.3 644.3,433.6 647.4,434.56 650.4,435.8 652.52,437.22 654.56,438.75 656.5,440.4 659.5,443.4 660.61,445.89 661.62,448.42 662.5,451 663.62,453.19 664.1,455.6 666.3,457.9 667,459"/>
<polyline points="508,230.6 506.5,236.7 505,242.8 506.5,248.9 508,255"/>
<polyline points="512,231 511,236"/>
<polyline points="67,107.5 69.41,107.17 71.85,107.02 74.2,106.3 75.24,104.07 76.2,101.8 80.3,100.8 83.24,101.66 86.3,101.8 89.33,102.67 92.4,103.4 95.03,103.68 97.43,104.93 99.95,105.68 102.6,105.9 105.13,105.76 107.67,105.57 110.17,106.22 112.7,106.3 115.39,106.75 118.09,107.17 120.8,107.5 123.45,108.28 126.18,108.2 128.9,108.3 130,106.5 132,109 135,111 138,109.8 138.7,112.04 140,114 142.53,113.52 145.07,114.05 147.6,114 149.96,116.15 152.7,117.8 154.97,118.21 157.07,119.04 159,120.3 161,121.41 163.03,122.44 165.3,122.9 167.72,124.24 169.47,126.42 171.7,128 174.04,129.36 175.73,131.55 178,133 180.05,134.41 182.41,135.29 184.4,136.8 185.6,140.6 187.17,143.01 188.2,145.7 189.66,147.6 191.52,149.12 193.2,150.8 195.68,151.68 198.3,152 199.65,153.84 200.8,155.8 202.1,158.4 204.27,159.07 206.11,160.55 208.4,160.9 210.87,161.91 213.47,162.56 216,163.4 218.53,164.74 221.1,166 222.87,167.45 224.9,168.5 226.67,169.94 228.7,171 231.3,173.6 232.5,177.4 231.3,181.2 228.7,183.7 227.5,181.2"/>
<polyline points="67,98 71,98"/>
<polyline points="67,100.5 70,100.5 70,103"/>
<polyline points="79,107 84,105"/>
<polyline points="155.6,113.7 154.6,113.4 153.7,113.4 152.9,112.3 151.7,111.2 152.2,110.9 152.8,110.8 153.7,110.9 155.3,111.8 155.3,112.8 155.6,113.7"/>
<polyline points="153.5,115.2 151.1,114.4 150,115.1 148.6,113.5 148,112.4 148,111.7 148.5,111.1 149.9,110.9 151.2,112.4 152.7,113.6 153.5,115.2"/>
<polyline points="150.1,115 150.2,115.7 148.6,115.5 147.2,115 145.8,114.3 145.7,113.6 146.6,113.3 147.6,112.9 149.3,113.5 149.9,114.4 150.1,115"/>
<polyline points="160.9,117.5 158.5,117 157.4,117.2 155.4,116.6 155.2,115.3 154.5,114.1 156,114.2 157.1,113.6 159.1,114.5 160,115.9 160.9,117.5"/>
<polyline points="156.8,118.5 156.2,119.4 154.4,118.9 153.2,117.2 152.2,115.8 153.3,115.5 153.5,114.3 155.1,115 156.9,116.1 157.6,117.8 156.8,118.5"/>
<polyline points="151.9,117.8 151.3,117.9 150.3,117.4 148.7,116.9 148.6,115.9 148.4,115.2 148.9,114.9 150.1,114.9 151.1,116.3 152.3,117.3 151.9,117.8"/>
<polyline points="162.5,119.8 161.5,120.3 160.1,120.9 158,119.8 158.1,118.3 158,117.5 158.6,116.9 159.9,117 161.6,117.5 162.8,118.7 162.5,119.8"/>
<polyline points="159.7,120.5 158.4,120.5 157.1,119.9 155.9,118.9 155.1,117.7 156.1,117.4 156.1,116.1 157.6,116.7 159,117.8 159.7,119.2 159.7,120.5"/>
<polyline points="154.3,119.9 154,120.6 153.2,120.7 152.2,120.6 151.9,119.8 151.9,119.1 152.2,118.5 153,118.4 154,118.4 154.2,119.3 154.3,119.9"/>
<polyline points="166.2,122.7 165.5,122.9 164.6,123.4 163.2,122.7 163,121.6 163,120.8 164,120.8 164.7,120.9 165.7,121.2 166.2,122 166.2,122.7"/>
<polyline points="162.3,123.1 161.8,124 160.9,123.4 159.8,123.3 158.9,122.1 159.5,120.9 160.7,120.3 161.8,120.9 162.6,121.4 162.6,122.3 162.3,123.1"/>
<polyline points="159.3,124.5 158.6,125.2 156.5,124.8 154.5,123.8 153.1,122.6 153,121.5 154.6,121.6 155.8,121.5 157.3,122.3 157.8,123.2 159.3,124.5"/>
<polyline points="168.3,124.9 167.4,125.7 166,124.9 165.1,123.4 165.7,122.2 166.3,121.7 167.1,121.6 167.9,122.1 168.5,123 169,124.2 168.3,124.9"/>
<polyline points="164.1,126.8 163.6,127.8 162.2,127.4 161.1,125.8 160.7,124.3 161.5,123.5 162.6,123.8 163.8,123.6 164.4,125.2 165.3,126.6 164.1,126.8"/>
<polyline points="160.6,127.4 159.8,127.6 158.9,127.3 157.2,126.8 156.9,125.2 158.2,124.7 158.8,123.5 160.4,123.8 161.3,125.4 161.3,126.7 160.6,127.4"/>
<polyline points="173.5,128.1 172.6,129.1 171.5,128.4 170.3,127.9 170.1,126.5 171.2,125.9 172,125.4 172.9,125.5 173.5,126.2 174.1,127.1 173.5,128.1"/>
<polyline points="167.5,128 166.8,128.8 165.5,129.2 164.6,128.1 163.5,127.1 164.2,126 165.1,125.3 166.2,125.3 166.8,126.3 167.7,127 167.5,128"/>
<polyline points="164.6,129.4 163.4,129.4 161.9,128.6 160.4,127.7 159.4,126.5 159,125.3 160.7,126 161.7,125.9 163,127.1 163.8,128.1 164.6,129.4"/>
<polyline points="176.7,132.3 175.7,132.7 174.5,131.7 173.6,130.4 173.1,128.8 173.9,128.1 174.9,127.9 176.1,128.7 177.5,130 177.5,131.6 176.7,132.3"/>
<polyline points="170.1,133.3 168.9,132.5 168.1,132 167.3,131.2 167.6,130.3 167.8,129.6 168.6,129.7 169.6,129.6 170.5,130.8 170.8,132.3 170.1,133.3"/>
<polyline points="164.7,133.3 163.2,132.1 162.1,132 161.4,130.2 160.8,128.9 160.5,127.3 161.7,127.6 162.9,129.3 163.9,130.4 164.5,131.8 164.7,133.3"/>
<polyline points="181,132.9 180.2,133.6 179,133.3 177.9,133.4 176.6,132.7 176.6,131.7 177.8,131.3 178.4,130.1 180.1,130.7 181.4,131.7 181,132.9"/>
<polyline points="173.5,133 173.1,133.8 172,134.5 170.8,133.8 170.9,132.5 171.1,131.8 171.2,130.4 172.5,130.7 173.7,131.1 173.5,132.3 173.5,133"/>
<polyline points="166.6,135.1 165.8,135.3 164.9,133.8 163.6,132.8 164.1,132 163.6,130.4 164.7,131 165.6,131.9 166.5,133 167.2,134.6 166.6,135.1"/>
<polyline points="184.3,135.6 183.6,135.9 182.7,136 181.5,135.7 180.6,135 179.6,134 181,133.9 182.1,133.7 183.3,134.4 184.4,135 184.3,135.6"/>
<polyline points="176.4,136 175.8,136.7 174.6,137 174.3,135.7 173.3,134.8 174,134 174.8,133.4 176,133.2 176.6,134.3 177,135.3 176.4,136"/>
<polyline points="169.6,138.6 168.4,138.7 167.3,138.2 166.8,137.2 166.4,136.3 166.8,135.7 167.3,134.5 168.5,135.5 169.1,136.4 169.3,137.3 169.6,138.6"/>
<polyline points="167.9,141.9 171.7,142.5 175.5,145.7 178,149.5 179.3,153.3 175.5,150.8 171.7,147 169.2,144.4 167.9,141.9"/>
<polyline points="197,160.9 205.9,162.2 211,166 216,168.5 221.1,172.3 223.7,176.1 219.8,177.4 214.8,173.6 208.4,169.8 202.1,165.3 197,162.2"/>
<polyline points="221.1,177.4 219.8,181.2 220.69,183.96 222.4,186.3 222.8,189.19 222.64,192.14 223.3,195 222.62,197.33 221.92,199.65 221.47,202.03 220.94,204.39 220.38,206.74 220.3,209.2 219.96,211.6 220.48,213.94 220.77,216.3 220.74,218.68 220.8,221.06 221.3,223.4 222.4,225.38 223.42,227.4 224.71,229.28 225.14,231.6 226.4,233.5 228.05,235.92 230.56,237.47 232.5,239.6 234.14,241.43 235.44,243.49 236.5,245.7 238.09,247.68 239.73,249.61 240.66,252.09 242.6,253.8 244.37,255.56 245.51,257.75 246.7,259.9 249.55,260.54 252.04,262.12 254.8,263 256.7,264.27 259.02,264.68 260.9,266 262.62,268.06 263.54,270.58 264.72,272.95 266.1,275.2 266.89,277.61 268.92,279.36 270.03,281.6 271.14,283.84 272.29,286.05 273.2,288.4 275.23,290.01 276.67,292.21 278.59,293.93 280.69,295.47 282.3,297.5 279.82,298.34 277.2,298.5 280.3,301.6 282.41,302.38 284.3,303.6 286.56,304.81 288.4,306.6 290.25,308.52 292.6,309.84 294.5,311.7 294.61,313.9 294.49,316.13 295,318.3 296.88,319.48 298.88,320.48 300.6,321.9 302.34,323.74 304.6,324.9 305.76,327.69 307.7,330 310.7,326.9 308.52,324.51 306.6,321.9 304.62,320.8 302.6,319.8 302.03,317.23 300.52,315.07 299.5,312.7 297.91,310.83 296.42,308.9 295.5,306.6 294.91,304.35 293.75,302.4 292.31,300.58 291.4,298.5 289.76,296.12 288.08,293.76 286.4,291.4 284.58,290.06 283.47,287.95 281.57,286.7 279.8,285.3 278.99,282.83 278.22,280.36 278.2,277.73 277.7,275.2"/>
<polyline points="277.7,275.2 279.96,276.11 281.96,277.56 284.3,278.3 286.25,279.51 288.4,280.3 289.29,282.84 290.4,285.3 291.77,287.16 292.8,289.2 293.5,291.4 295.16,293.33 296.5,295.5 298.68,296.61 300.34,298.51 302.6,299.5 304.6,302.6 306.64,304.61 308.7,306.6 309.91,308.72 310.91,310.96 312.7,312.7 314.88,313.85 316.75,315.46 318.8,316.8 321.15,319.11 322.9,321.9 324.73,323.88 327.31,324.98 328.74,327.42 331,328.9 332.19,331.17 334,333 334.6,335 335.01,337.41 336.1,339.6 335.36,342.06 333.8,344.1 334.6,347.2 337.01,348.91 339.1,351 341.01,352.47 343.4,353.16 345.2,354.8 347.51,356.28 349.8,357.8 352.08,358.53 354.17,359.81 356.6,360.1 359.2,361.68 361.9,363.1 364.28,364.5 367.05,364.97 369.5,366.2 372.44,367.65 375.6,368.5 377.67,369.32 379.48,370.72 381.7,371.2 384.34,371.36 386.68,372.75 389.3,373 391.46,371.56 393.9,370.7 396.17,370 398.4,369.2 401.44,370.38 404.5,371.5 407.01,372.68 409.1,374.5 410.72,377.03 412.9,379.1 414.93,380.44 416.7,382.1 419.28,382.43 421.86,382.71 424.3,383.7 426.64,384.25 428.86,385.17 431.05,386.17 433.4,386.7 436.47,386.95 439.5,387.5 441,389.8 442.66,391.55 444.6,393 446.45,394.78 447.69,397 449.1,399.1 450.68,401.38 452.2,403.7 455.2,406.7 456.92,408.64 459.05,410.06 461.3,411.3 463.49,413.33 465.9,415.1 469.09,415.75 471.9,417.4 474.27,418.79 476.5,420.4 478.7,421.76 481.1,422.7 484.1,420.4 484.58,418.01 485.6,415.8 487.93,414.76 490.2,413.6 492.51,414.31 494.8,415.1 497,418.9 498.6,421.9 500.8,425 502.12,427.86 502.4,431 501.86,434.05 502.4,437.1 502.83,440.23 503.9,443.2 500.8,446.3 499.57,448.73 497.8,450.8 495.41,453.01 493.2,455.4 491.11,457.86 488.7,460 487.26,462.33 485.6,464.5 484.5,467"/>
<polyline points="413.7,379.1 413.7,374.5 415.9,371.5 421.3,370 424.3,367.7 419.7,363.1 421.3,360.1 430.4,359.3 436.5,357.8"/>
<polyline points="450.5,394 454,393.8 457.6,397 455,399.9 451,398 450.5,394"/>
<polyline points="289,217 292,216 294,219.5 291.5,221 289,217"/>
<polyline points="246.7,231.5 247.5,232"/>
<polyline points="279,249 281,249.8 280,251"/>
<polyline points="257.8,293.4 258.5,294"/>
<polyline points="254.5,266 256,266.5"/>
<polyline points="256,269.5 257,270"/>
<polyline points="457.6,335 459.68,333.48 461.7,331.9 463.64,330.7 465.69,329.74 467.8,328.9 470.31,328.53 472.87,328.58 475.35,327.88 477.9,327.9 480.64,327.91 483.27,328.82 486,328.9 488.8,329.72 491.3,331.36 494.2,331.9 497.07,333.51 500,335 504.2,335.6 506.12,336.82 508.33,337.43 510.12,338.92 512.3,339.6 514.53,340.22 516.53,341.3 518.58,342.28 520.4,343.7 518.28,344.52 516.23,345.49 514.3,346.7 511.64,347.38 508.91,347.47 506.2,347.7 503.27,346.35 500.1,345.7 502.2,342.7 500.21,341.58 497.93,341.04 496.1,339.6 493.95,338.66 491.91,337.52 490.1,336 487.3,335.73 484.68,334.77 482,334 479.36,334.8 476.54,334.21 473.9,335 471.2,335.08 468.5,334.99 465.8,335 463.05,335.04 460.31,335.11 457.6,335.6"/>
<polyline points="526.5,347.7 530.6,346.7 533.54,348.08 536.7,348.8 539.38,348.31 542.08,347.88 544.8,347.7 546.88,348.65 549.11,349.29 550.9,350.8 553.47,352.71 555.9,354.8 553.31,355.65 550.9,356.9 548.17,356.37 545.43,356.58 542.7,356.9 540.59,358.26 538.7,359.9 536.7,358.79 534.6,357.9 531.46,357.92 528.5,356.9 525.78,356.75 523.08,356.41 520.4,355.9 522.5,354.8 525.2,354.97 527.9,354.37 530.6,354.8 530.6,351.8 528.45,349.85 526.5,347.7"/>
<polyline points="496.1,355.9 502.2,354.8 508.3,356.9 507.2,359.5 502.2,359.9 496.1,355.9"/>
<polyline points="563,355.4 571.1,355.9 572.1,357.9 565,358.9 563,355.4"/>
<polyline points="493,306 497,305 501,306.5 503,309.5"/>
<polyline points="497,315 499,314.5 501,318 499.5,322.5 497.5,320 497,315"/>
<polyline points="506.2,314.3 508,317"/>
<polyline points="511,319 513,322"/>
<polyline points="515,325 517,328"/>
<polyline points="520,331 523,333"/>
<polyline points="527,334 530,335.5"/>
<polyline points="533,336 536.7,336.6"/>
<polyline points="577.2,355.9 577.5,356.5"/>
<polyline points="589.4,361.9 590,362.5"/>
<polyline points="595.5,364 596,365.5"/>
<polyline points="597.5,369 598,371"/>
<polyline points="599.5,375 600,377"/>
<polyline points="600.5,382 600.5,384"/>
<polyline points="599.5,387.5 599.5,389"/>
<polyline points="596.5,394 596.5,395"/>
<polyline points="602.6,399 602,400"/>
<polyline points="545,393.5 546.5,393"/>
<polyline points="549,393.5 550.5,394"/>
<polyline points="553,394 555.6,395"/>
<polyline points="551.5,391.7 553,393"/>
<polyline points="555.5,392.5 556.8,394"/>
<polyline points="661.8,466 664,462 667,460"/>
<polyline points="664,466 667,463"/>
<polyline points="228.5,172 231,173.5 233,176 232,179 230,177 229,175 228.5,172"/>
<polyline points="229.5,177.5 232.5,178.5 233.5,181 231.5,183.5 229.5,182 229.5,177.5"/>
<polyline points="230.5,179.5 231.5,181.5"/>
<polyline points="226,174 228,176.5 227,178.5"/>
<polyline points="222.5,186 224,186.5"/>
<polyline points="223.5,189 225.5,189.5"/>
<polyline points="509,228 511,231 510,234 512,237 510,240 511,243"/>
<polyline points="505.5,232 507,235 506,238 508,241 507,244 509,247"/>
<polyline points="513,233 515.5,236 514,238.5"/>
<polyline points="507,249 510,251 508,253"/>
<polyline points="503,236 505,239 504,242"/>
</g>
</defs>
<rect width="789" height="1016" fill="#fff"/>
<g clip-path="url(#pc)">
<use href="#fills"/>
<use href="#coast"/>
</g>
<rect x="67" y="46.5" width="600" height="420" fill="none" stroke="#333" stroke-width="1.5"/>
<line x1="55" y1="466.5" x2="67" y2="466.5" class="tk"/>
<text x="44.5" y="472.7" text-anchor="end" class="ax">0°</text>
<line x1="55" y1="376.5" x2="67" y2="376.5" class="tk"/>
<text x="44.5" y="382.7" text-anchor="end" class="ax">15°N</text>
<line x1="55" y1="286.5" x2="67" y2="286.5" class="tk"/>
<text x="44.5" y="292.7" text-anchor="end" class="ax">30°N</text>
<line x1="55" y1="196.5" x2="67" y2="196.5" class="tk"/>
<text x="44.5" y="202.7" text-anchor="end" class="ax">45°N</text>
<line x1="55" y1="106.5" x2="67" y2="106.5" class="tk"/>
<text x="44.5" y="112.7" text-anchor="end" class="ax">60°N</text>
<line x1="67" y1="466.5" x2="67" y2="478.5" class="tk"/>
<text x="67" y="502.8" text-anchor="middle" class="ax">150°W</text>
<line x1="157" y1="466.5" x2="157" y2="478.5" class="tk"/>
<text x="157" y="502.8" text-anchor="middle" class="ax">135°W</text>
<line x1="247" y1="466.5" x2="247" y2="478.5" class="tk"/>
<text x="247" y="502.8" text-anchor="middle" class="ax">120°W</text>
<line x1="337" y1="466.5" x2="337" y2="478.5" class="tk"/>
<text x="337" y="502.8" text-anchor="middle" class="ax">105°W</text>
<line x1="427" y1="466.5" x2="427" y2="478.5" class="tk"/>
<text x="427" y="502.8" text-anchor="middle" class="ax">90°W</text>
<line x1="517" y1="466.5" x2="517" y2="478.5" class="tk"/>
<text x="517" y="502.8" text-anchor="middle" class="ax">75°W</text>
<line x1="607" y1="466.5" x2="607" y2="478.5" class="tk"/>
<text x="607" y="502.8" text-anchor="middle" class="ax">60°W</text>
<text x="66.5" y="25.3" class="ti">Zonal Wind</text>
<text x="667" y="25.3" text-anchor="end" class="ti">m/s</text>
<rect x="708.3" y="52.6" width="35.7" height="27.1733" fill="#ffc3c3"/>
<rect x="708.3" y="79.7733" width="35.7" height="27.1733" fill="#d74b4b"/>
<rect x="708.3" y="106.947" width="35.7" height="27.1733" fill="#f03c3c"/>
<rect x="708.3" y="134.12" width="35.7" height="27.1733" fill="#ff6b3c"/>
<rect x="708.3" y="161.293" width="35.7" height="27.1733" fill="#ffa03c"/>
<rect x="708.3" y="188.467" width="35.7" height="27.1733" fill="#ffc846"/>
<rect x="708.3" y="215.64" width="35.7" height="27.1733" fill="#ffe670"/>
<rect x="708.3" y="242.813" width="35.7" height="27.1733" fill="#fffdd8"/>
<rect x="708.3" y="269.987" width="35.7" height="27.1733" fill="#b0dcf2"/>
<rect x="708.3" y="297.16" width="35.7" height="27.1733" fill="#5acbfa"/>
<rect x="708.3" y="324.333" width="35.7" height="27.1733" fill="#46b4fa"/>
<rect x="708.3" y="351.507" width="35.7" height="27.1733" fill="#5f96f0"/>
<rect x="708.3" y="378.68" width="35.7" height="27.1733" fill="#6478eb"/>
<rect x="708.3" y="405.853" width="35.7" height="27.1733" fill="#4b41fa"/>
<rect x="708.3" y="433.027" width="35.7" height="27.1733" fill="#a05af0"/>
<line x1="708.3" y1="79.7733" x2="744" y2="79.7733" stroke="#222" stroke-width="1"/>
<line x1="708.3" y1="106.947" x2="744" y2="106.947" stroke="#222" stroke-width="1"/>
<line x1="708.3" y1="134.12" x2="744" y2="134.12" stroke="#222" stroke-width="1"/>
<line x1="708.3" y1="161.293" x2="744" y2="161.293" stroke="#222" stroke-width="1"/>
<line x1="708.3" y1="188.467" x2="744" y2="188.467" stroke="#222" stroke-width="1"/>
<line x1="708.3" y1="215.64" x2="744" y2="215.64" stroke="#222" stroke-width="1"/>
<line x1="708.3" y1="242.813" x2="744" y2="242.813" stroke="#222" stroke-width="1"/>
<line x1="708.3" y1="269.987" x2="744" y2="269.987" stroke="#222" stroke-width="1"/>
<line x1="708.3" y1="297.16" x2="744" y2="297.16" stroke="#222" stroke-width="1"/>
<line x1="708.3" y1="324.333" x2="744" y2="324.333" stroke="#222" stroke-width="1"/>
<line x1="708.3" y1="351.507" x2="744" y2="351.507" stroke="#222" stroke-width="1"/>
<line x1="708.3" y1="378.68" x2="744" y2="378.68" stroke="#222" stroke-width="1"/>
<line x1="708.3" y1="405.853" x2="744" y2="405.853" stroke="#222" stroke-width="1"/>
<line x1="708.3" y1="433.027" x2="744" y2="433.027" stroke="#222" stroke-width="1"/>
<rect x="708.3" y="52.6" width="35.7" height="407.6" fill="none" stroke="#777" stroke-width="1"/>
<text x="767.5" y="86.4733" text-anchor="middle" class="cb">40</text>
<text x="767.5" y="113.647" text-anchor="middle" class="cb">36</text>
<text x="767.5" y="140.82" text-anchor="middle" class="cb">32</text>
<text x="767.5" y="167.993" text-anchor="middle" class="cb">28</text>
<text x="767.5" y="195.167" text-anchor="middle" class="cb">24</text>
<text x="767.5" y="222.34" text-anchor="middle" class="cb">20</text>
<text x="767.5" y="249.513" text-anchor="middle" class="cb">16</text>
<text x="767.5" y="276.687" text-anchor="middle" class="cb">12</text>
<text x="767.5" y="303.86" text-anchor="middle" class="cb">8</text>
<text x="767.5" y="331.033" text-anchor="middle" class="cb">4</text>
<text x="767.5" y="358.207" text-anchor="middle" class="cb">0</text>
<text x="767.5" y="385.38" text-anchor="middle" class="cb">-4</text>
<text x="767.5" y="412.553" text-anchor="middle" class="cb">-8</text>
<text x="767.5" y="439.727" text-anchor="middle" class="cb">-12</text>
<g transform="translate(0,505)">
<g clip-path="url(#pc)">
<g mask="url(#mc)"><use href="#fills"/></g>
<use href="#coast"/>
</g>
<rect x="67" y="46.5" width="600" height="420" fill="none" stroke="#333" stroke-width="1.5"/>
</g>
<line x1="55" y1="971.5" x2="67" y2="971.5" class="tk"/>
<text x="44.5" y="977.7" text-anchor="end" class="ax">0°</text>
<line x1="55" y1="881.5" x2="67" y2="881.5" class="tk"/>
<text x="44.5" y="887.7" text-anchor="end" class="ax">15°N</text>
<line x1="55" y1="791.5" x2="67" y2="791.5" class="tk"/>
<text x="44.5" y="797.7" text-anchor="end" class="ax">30°N</text>
<line x1="55" y1="701.5" x2="67" y2="701.5" class="tk"/>
<text x="44.5" y="707.7" text-anchor="end" class="ax">45°N</text>
<line x1="55" y1="611.5" x2="67" y2="611.5" class="tk"/>
<text x="44.5" y="617.7" text-anchor="end" class="ax">60°N</text>
<line x1="67" y1="971.5" x2="67" y2="983.5" class="tk"/>
<text x="67" y="1007.8" text-anchor="middle" class="ax">150°W</text>
<line x1="157" y1="971.5" x2="157" y2="983.5" class="tk"/>
<text x="157" y="1007.8" text-anchor="middle" class="ax">135°W</text>
<line x1="247" y1="971.5" x2="247" y2="983.5" class="tk"/>
<text x="247" y="1007.8" text-anchor="middle" class="ax">120°W</text>
<line x1="337" y1="971.5" x2="337" y2="983.5" class="tk"/>
<text x="337" y="1007.8" text-anchor="middle" class="ax">105°W</text>
<line x1="427" y1="971.5" x2="427" y2="983.5" class="tk"/>
<text x="427" y="1007.8" text-anchor="middle" class="ax">90°W</text>
<line x1="517" y1="971.5" x2="517" y2="983.5" class="tk"/>
<text x="517" y="1007.8" text-anchor="middle" class="ax">75°W</text>
<line x1="607" y1="971.5" x2="607" y2="983.5" class="tk"/>
<text x="607" y="1007.8" text-anchor="middle" class="ax">60°W</text>
<text x="66.5" y="530.3" class="ti">Zonal Wind</text>
<text x="667" y="530.3" text-anchor="end" class="ti">m/s</text>
<rect x="708.3" y="557.6" width="35.7" height="27.1733" fill="#ffc3c3"/>
<rect x="708.3" y="584.773" width="35.7" height="27.1733" fill="#d74b4b"/>
<rect x="708.3" y="611.947" width="35.7" height="27.1733" fill="#f03c3c"/>
<rect x="708.3" y="639.12" width="35.7" height="27.1733" fill="#ff6b3c"/>
<rect x="708.3" y="666.293" width="35.7" height="27.1733" fill="#ffa03c"/>
<rect x="708.3" y="693.467" width="35.7" height="27.1733" fill="#ffc846"/>
<rect x="708.3" y="720.64" width="35.7" height="27.1733" fill="#ffe670"/>
<rect x="708.3" y="747.813" width="35.7" height="27.1733" fill="#fffdd8"/>
<rect x="708.3" y="774.987" width="35.7" height="27.1733" fill="#b0dcf2"/>
<rect x="708.3" y="802.16" width="35.7" height="27.1733" fill="#5acbfa"/>
<rect x="708.3" y="829.333" width="35.7" height="27.1733" fill="#46b4fa"/>
<rect x="708.3" y="856.507" width="35.7" height="27.1733" fill="#5f96f0"/>
<rect x="708.3" y="883.68" width="35.7" height="27.1733" fill="#6478eb"/>
<rect x="708.3" y="910.853" width="35.7" height="27.1733" fill="#4b41fa"/>
<rect x="708.3" y="938.027" width="35.7" height="27.1733" fill="#a05af0"/>
<line x1="708.3" y1="584.773" x2="744" y2="584.773" stroke="#222" stroke-width="1"/>
<line x1="708.3" y1="611.947" x2="744" y2="611.947" stroke="#222" stroke-width="1"/>
<line x1="708.3" y1="639.12" x2="744" y2="639.12" stroke="#222" stroke-width="1"/>
<line x1="708.3" y1="666.293" x2="744" y2="666.293" stroke="#222" stroke-width="1"/>
<line x1="708.3" y1="693.467" x2="744" y2="693.467" stroke="#222" stroke-width="1"/>
<line x1="708.3" y1="720.64" x2="744" y2="720.64" stroke="#222" stroke-width="1"/>
<line x1="708.3" y1="747.813" x2="744" y2="747.813" stroke="#222" stroke-width="1"/>
<line x1="708.3" y1="774.987" x2="744" y2="774.987" stroke="#222" stroke-width="1"/>
<line x1="708.3" y1="802.16" x2="744" y2="802.16" stroke="#222" stroke-width="1"/>
<line x1="708.3" y1="829.333" x2="744" y2="829.333" stroke="#222" stroke-width="1"/>
<line x1="708.3" y1="856.507" x2="744" y2="856.507" stroke="#222" stroke-width="1"/>
<line x1="708.3" y1="883.68" x2="744" y2="883.68" stroke="#222" stroke-width="1"/>
<line x1="708.3" y1="910.853" x2="744" y2="910.853" stroke="#222" stroke-width="1"/>
<line x1="708.3" y1="938.027" x2="744" y2="938.027" stroke="#222" stroke-width="1"/>
<rect x="708.3" y="557.6" width="35.7" height="407.6" fill="none" stroke="#777" stroke-width="1"/>
<text x="767.5" y="591.473" text-anchor="middle" class="cb">40</text>
<text x="767.5" y="618.647" text-anchor="middle" class="cb">36</text>
<text x="767.5" y="645.82" text-anchor="middle" class="cb">32</text>
<text x="767.5" y="672.993" text-anchor="middle" class="cb">28</text>
<text x="767.5" y="700.167" text-anchor="middle" class="cb">24</text>
<text x="767.5" y="727.34" text-anchor="middle" class="cb">20</text>
<text x="767.5" y="754.513" text-anchor="middle" class="cb">16</text>
<text x="767.5" y="781.687" text-anchor="middle" class="cb">12</text>
<text x="767.5" y="808.86" text-anchor="middle" class="cb">8</text>
<text x="767.5" y="836.033" text-anchor="middle" class="cb">4</text>
<text x="767.5" y="863.207" text-anchor="middle" class="cb">0</text>
<text x="767.5" y="890.38" text-anchor="middle" class="cb">-4</text>
<text x="767.5" y="917.553" text-anchor="middle" class="cb">-8</text>
<text x="767.5" y="944.727" text-anchor="middle" class="cb">-12</text>
</svg>
</body></html>
